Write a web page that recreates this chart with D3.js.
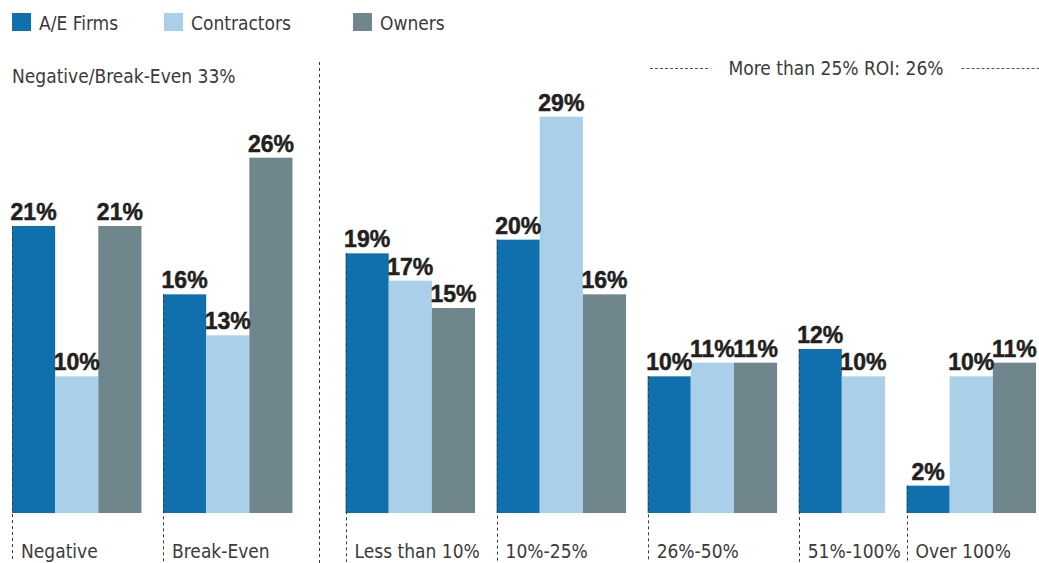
<!DOCTYPE html>
<html>
<head>
<meta charset="utf-8">
<script src="https://cdn.jsdelivr.net/npm/d3@7"></script>
<style>
  html, body { margin: 0; padding: 0; background: #fff; }
  svg { display: block; }
  .cond { font-family: "Liberation Sans Narrow", "Arial Narrow", "DejaVu Sans Condensed", sans-serif; fill: #3b3b3b; }
  .val { font-family: "Liberation Sans", Arial, sans-serif; font-weight: 700; fill: #231f20; stroke: #231f20; stroke-width: 0.5; }
</style>
</head>
<body>
<script>
// ROI categories, grouped into the loss/break-even side and the gain side
const categories = ["Negative", "Break-Even", "Less than 10%", "10%-25%", "26%-50%", "51%-100%", "Over 100%"];
const series = ["A/E Firms", "Contractors", "Owners"];
const colors = ["#1070ad", "#a9cfe9", "#6f868d"];

// Percent of respondents per category (null = no bar)
const aeFirms     = [21, 16, 19, 20, 10, 12, 2];
const contractors = [10, 13, 17, 29, 11, 10, 10];
const owners      = [21, 26, 15, 16, 11, null, 11];

const leftHeader  = "Negative/Break-Even 33%";
const rightHeader = "More than 25% ROI: 26%";

const W = 1039, H = 563;
const svg = d3.select("body").append("svg").attr("width", W).attr("height", H);

// Horizontal layout in "bar units": each bar is one unit, groups are
// separated by half a unit, and the divider between the two sides is wider.
const values = [aeFirms, contractors, owners];
const groupGap = 0.5, dividerGap = 1.23, dividerAfter = 1;
const groups = [];
let u = 0;
categories.forEach((c, i) => {
  const bars = series.map((s, k) => ({ series: s, k, value: values[k][i] }))
                     .filter(d => d.value != null);
  const start = u;
  bars.forEach((b, j) => { b.u0 = start + j; });
  u += bars.length;
  groups.push({ name: c, start, end: u, bars });
  if (i < categories.length - 1) {
    u += (i === dividerAfter) ? dividerGap : groupGap;
  }
});
const totalUnits = u;

const x = d3.scaleLinear().domain([0, totalUnits]).range([12, 1036]);
const y = d3.scaleLinear().domain([0, 30]).range([513, 103]);
const baseY = y(0);

// Bars
const allBars = groups.flatMap(g => g.bars);
svg.append("g").selectAll("rect").data(allBars).join("rect")
  .attr("x", d => x(d.u0))
  .attr("width", d => x(d.u0 + 1) - x(d.u0))
  .attr("y", d => y(d.value))
  .attr("height", d => baseY - y(d.value))
  .attr("fill", d => colors[d.k]);

// Value labels
svg.append("g").selectAll("text").data(allBars).join("text")
  .attr("class", "val")
  .attr("x", d => x(d.u0 + 0.5))
  .attr("y", d => y(d.value) - 6)
  .attr("text-anchor", "middle")
  .attr("font-size", 23)
  .text(d => d.value + "%");

// Dashed marker line at the left edge of each group
svg.append("g").selectAll("line").data(groups).join("line")
  .attr("x1", g => Math.round(x(g.start)) + 0.5)
  .attr("x2", g => Math.round(x(g.start)) + 0.5)
  .attr("y1", g => y(g.bars[0].value))
  .attr("y2", 562)
  .attr("stroke", "#3b3b3b")
  .attr("stroke-width", 1)
  .attr("stroke-dasharray", "3,3");

// Category labels
svg.append("g").selectAll("text").data(groups).join("text")
  .attr("class", "cond")
  .attr("x", g => x(g.start) + 9)
  .attr("y", 558)
  .attr("font-size", 19)
  .text(g => g.name);

// Divider between the loss and gain sides
const divX = Math.round((x(groups[dividerAfter].end) + x(groups[dividerAfter + 1].start)) / 2) + 0.5;
svg.append("line")
  .attr("x1", divX).attr("x2", divX)
  .attr("y1", 62).attr("y2", H)
  .attr("stroke", "#3b3b3b")
  .attr("stroke-dasharray", "3,3");

// Section headers
svg.append("text").attr("class", "cond")
  .attr("x", 12).attr("y", 83).attr("font-size", 19)
  .text(leftHeader);

const rh = svg.append("text").attr("class", "cond")
  .attr("x", 836).attr("y", 75).attr("font-size", 19)
  .attr("text-anchor", "middle")
  .text(rightHeader);
const bb = rh.node().getBBox();
svg.append("line")
  .attr("x1", 650).attr("x2", bb.x - 18)
  .attr("y1", 68.5).attr("y2", 68.5)
  .attr("stroke", "#555").attr("stroke-dasharray", "3,2");
svg.append("line")
  .attr("x1", bb.x + bb.width + 18).attr("x2", W)
  .attr("y1", 68.5).attr("y2", 68.5)
  .attr("stroke", "#555").attr("stroke-dasharray", "3,2");

// Legend
const legendX = [12, 164, 353];
const leg = svg.append("g").selectAll("g").data(series).join("g")
  .attr("transform", (d, i) => `translate(${legendX[i]},13)`);
leg.append("rect").attr("width", 19).attr("height", 18)
  .attr("fill", (d, i) => colors[i]);
leg.append("text").attr("class", "cond")
  .attr("x", 27).attr("y", 17).attr("font-size", 19)
  .text(d => d);
</script>
</body>
</html>
